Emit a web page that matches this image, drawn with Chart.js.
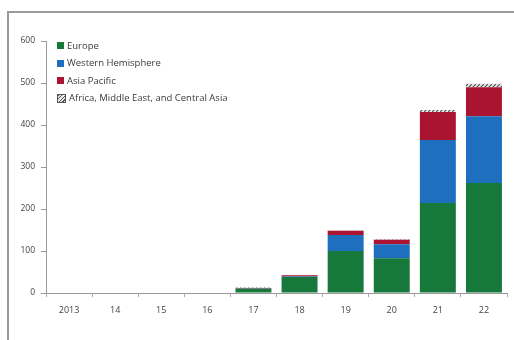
<!DOCTYPE html>
<html><head><meta charset="utf-8">
<script src="https://cdn.jsdelivr.net/npm/chart.js@4/dist/chart.umd.min.js"></script>
<style>
html,body{margin:0;padding:0;background:#fff;}
#wrap{position:relative;width:514px;height:340px;overflow:hidden;}
#frame{position:absolute;left:7px;top:11px;width:520px;height:340px;border-left:2px solid #9a9a9a;border-top:2px solid #9a9a9a;box-sizing:border-box;}
canvas{position:absolute;left:0;top:0;}
#legend{position:absolute;left:57px;top:37px;font-family:"Open Sans",sans-serif;font-size:9.5px;color:#3a3a3a;}
#legend div{height:17.5px;line-height:14px;display:flex;align-items:center;}
#legend span.b{display:inline-block;width:7px;height:7px;margin-right:3px;}
</style></head>
<body><div id="wrap"><div id="frame"></div><canvas id="c" width="514" height="340"></canvas><div id="legend"></div></div>
<script>
const categories = ["2013","14","15","16","17","18","19","20","21","22"];
const europe   = [0,0,0,0,10,38,100,83,214,262];
const westHem  = [0,0,0,0,1,1,38,33,150,159];
const asiaPac  = [0,0,0,0,1,3,10,11,67,69];
const africa   = [0,0,0,0,1,1,1,1,5,8];
const seriesNames = ["Europe","Western Hemisphere","Asia Pacific","Africa, Middle East, and Central Asia"];
const yTicks = [0,100,200,300,400,500,600];

function hatch(){
  const c=document.createElement('canvas');c.width=4;c.height=4;
  const x=c.getContext('2d');x.fillStyle='#e8e8e8';x.fillRect(0,0,4,4);
  x.strokeStyle='#555';x.lineWidth=1.2;x.beginPath();x.moveTo(0,4);x.lineTo(4,0);x.stroke();
  return x.createPattern(c,'repeat');
}
const colors=['#16783a','#1f6fbf','#ab1430',null];
const hp=hatch();
const data=[europe,westHem,asiaPac,africa];
const datasets=data.map((d,i)=>({label:seriesNames[i],data:d,backgroundColor:colors[i]||hp,
  barPercentage:0.78,categoryPercentage:1.0,borderWidth:0}));

const leg=document.getElementById('legend');
seriesNames.forEach((n,i)=>{const r=document.createElement('div');
  const b=document.createElement('span');b.className='b';
  b.style.background=colors[i]||'repeating-linear-gradient(135deg,#555 0 1px,#e8e8e8 1px 2.5px)';
  if(!colors[i]) b.style.border='0.5px solid #555';
  r.appendChild(b);r.appendChild(document.createTextNode(n));leg.appendChild(r);});

Chart.defaults.font.family='"Open Sans", sans-serif';
Chart.defaults.color='#444';
new Chart(document.getElementById('c'),{type:'bar',data:{labels:categories,datasets},
 options:{responsive:false,animation:false,
  layout:{padding:{left:0,right:7,top:41,bottom:0}},
  plugins:{legend:{display:false},tooltip:{enabled:false}},
  scales:{
   x:{stacked:true,grid:{display:true,drawOnChartArea:false,offset:true,tickLength:4,color:'#aaa'},
      border:{color:'#999',width:1},
      ticks:{font:{size:9},padding:8,color:'#444',maxRotation:0},
      afterFit:a=>{a.height=47;}},
   y:{stacked:true,min:0,max:600,
      grid:{display:true,drawOnChartArea:false,tickLength:5,color:'#999'},
      border:{color:'#999',width:1},
      afterBuildTicks:a=>{a.ticks=yTicks.map(v=>({value:v}));},
      ticks:{font:{size:8.5},padding:6,color:'#444'},
      afterFit:a=>{a.width=46;}}
  }}});
</script></body></html>
